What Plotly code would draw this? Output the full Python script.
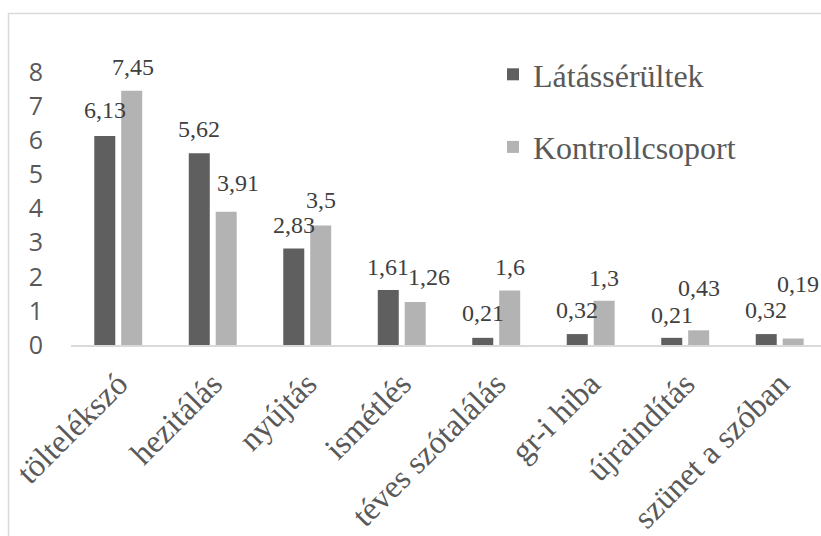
import plotly.graph_objects as go

categories = ["töltelékszó", "hezitálás", "nyújtás", "ismétlés",
              "téves szótalálás", "gr-i hiba", "újraindítás", "szünet a szóban"]
series_names = ["Látássérültek", "Kontrollcsoport"]
latasserultek = [6.13, 5.62, 2.83, 1.61, 0.21, 0.32, 0.21, 0.32]
kontroll = [7.45, 3.91, 3.5, 1.26, 1.6, 1.3, 0.43, 0.19]
y_ticks = [0, 1, 2, 3, 4, 5, 6, 7, 8]

# style: label placement tweaks (pixels), mimicking the original's label layout
dark_gap = [26, 24, 23, 23, 25, 24, 23, 24]
light_gap = [24, 29, 26, 25, 23, 23, 42, 55]
light_dx = [1, 11.5, 0, 13.5, 0, 0, 0, 4.5]

W, H = 821, 536
ML, MR, MT, MB = 71, 0, 38, 191
PW, PH = W - ML - MR, H - MT - MB

dark = "#5f5f5f"
light = "#b3b3b3"
serif = "Liberation Serif"

fig = go.Figure()
fig.add_trace(go.Bar(x=categories, y=latasserultek, name=series_names[0],
                     marker=dict(color=dark, line=dict(width=0)), legendgroup="a"))
fig.add_trace(go.Bar(x=categories, y=kontroll, name=series_names[1],
                     marker=dict(color=light, line=dict(width=0)), legendgroup="b"))

def fmt(v):
    return f"{v:g}".replace(".", ",")

annotations = []
for i, c in enumerate(categories):
    annotations.append(dict(x=i, y=latasserultek[i], xref="x", yref="y",
                            text=fmt(latasserultek[i]), showarrow=False,
                            xshift=-13.5, yshift=dark_gap[i], yanchor="middle",
                            font=dict(family=serif, size=24, color="#404040")))
    annotations.append(dict(x=i, y=kontroll[i], xref="x", yref="y",
                            text=fmt(kontroll[i]), showarrow=False,
                            xshift=13.5 + light_dx[i], yshift=light_gap[i], yanchor="middle",
                            font=dict(family=serif, size=24, color="#404040")))

def px_x(p):
    return (p - ML) / PW

def px_y(p):
    return (H - MB - p) / PH

frame = "#d9d9d9"
shapes = [
    dict(type="line", xref="paper", yref="paper", x0=px_x(8), x1=px_x(821),
         y0=px_y(13.5), y1=px_y(13.5), line=dict(color=frame, width=1.5)),
    dict(type="line", xref="paper", yref="paper", x0=px_x(8.5), x1=px_x(8.5),
         y0=px_y(13), y1=px_y(536), line=dict(color=frame, width=1.5)),
]

fig.update_layout(
    width=W, height=H,
    margin=dict(l=ML, r=MR, t=MT, b=MB, pad=0),
    paper_bgcolor="white", plot_bgcolor="white",
    barmode="group", bargap=0.43, bargroupgap=0.22,
    showlegend=True,
    legend=dict(x=px_x(493), y=px_y(47), xanchor="left", yanchor="top",
                font=dict(family=serif, size=32, color="#595959"),
                traceorder="grouped", tracegroupgap=28,
                bgcolor="rgba(0,0,0,0)"),
    annotations=annotations,
    shapes=shapes,
    xaxis=dict(type="category", range=[-0.5, 7.437], showgrid=False,
               showline=True, linecolor="#d9d9d9", linewidth=1.5,
               ticks="", tickangle=-45,
               tickfont=dict(family=serif, size=32.5, color="#595959"),
               ticklabelstandoff=5),
    yaxis=dict(range=[0, 9], tickvals=y_ticks, showgrid=False, zeroline=False,
               showline=False, ticks="",
               tickfont=dict(family="Open Sans", size=25, color="#595959"),
               ticklabelstandoff=27),
)

fig.write_html("out.html")
